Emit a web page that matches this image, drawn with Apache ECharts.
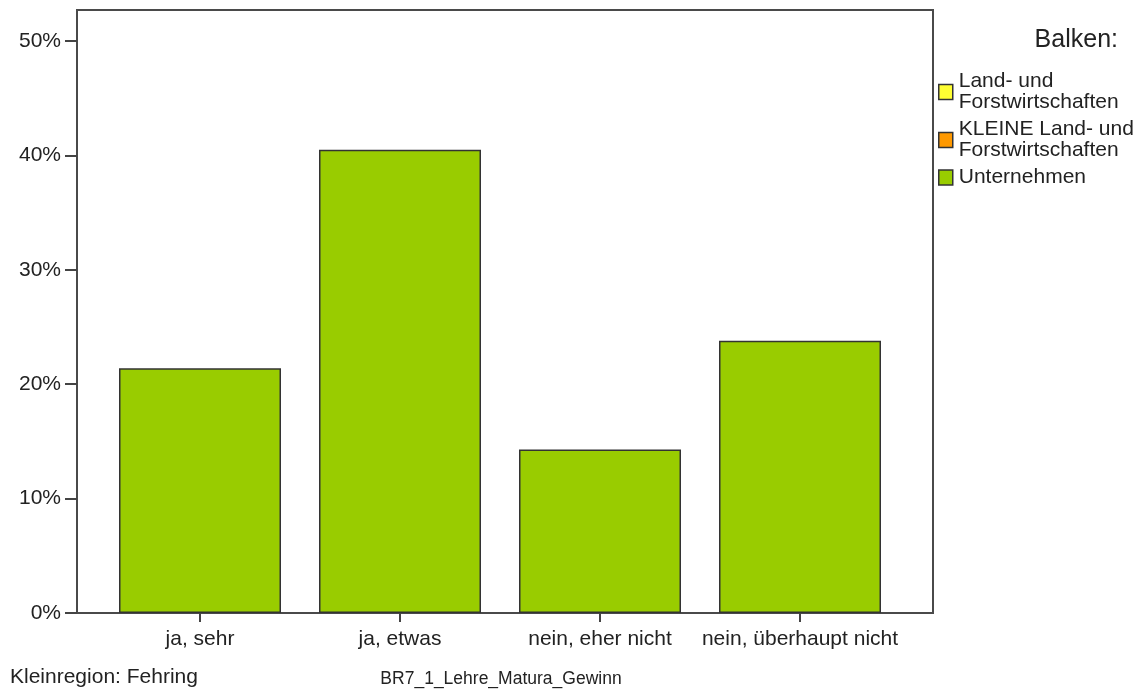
<!DOCTYPE html>
<html>
<head>
<meta charset="utf-8">
<script src="https://cdn.jsdelivr.net/npm/echarts@6/dist/echarts.min.js"></script>
<style>
html,body{margin:0;padding:0;background:#fff;}
#chart{width:1141px;height:693px;}
</style>
</head>
<body>
<div id="chart"></div>
<script>
const categories = ['ja, sehr', 'ja, etwas', 'nein, eher nicht', 'nein, überhaupt nicht'];
const seriesNames = ['Land- und\nForstwirtschaften', 'KLEINE Land- und\nForstwirtschaften', 'Unternehmen'];
const seriesColors = ['#ffff33', '#ff9900', '#99cc00'];
const landForst = [];
const kleineLandForst = [];
const unternehmen = [21.4, 40.5, 14.3, 23.8];
const yTicks = [0, 10, 20, 30, 40, 50];

const FONT = 'Liberation Sans, Arial, sans-serif';
const chart = echarts.init(document.getElementById('chart'), null, {renderer: 'canvas'});
const dataSets = [landForst, kleineLandForst, unternehmen];

chart.setOption({
  animation: false,
  backgroundColor: '#ffffff',
  textStyle: {fontFamily: FONT},
  title: [
    {text: 'Balken:', right: 18, top: 23, textStyle: {fontFamily: FONT, fontSize: 25, fontWeight: 'normal', color: '#222'}},
    {text: 'Kleinregion: Fehring', left: 5, top: 662, textStyle: {fontFamily: FONT, fontSize: 21, fontWeight: 'normal', color: '#222'}},
    {text: 'BR7_1_Lehre_Matura_Gewinn', left: 496, textAlign: 'center', top: 665, textStyle: {fontFamily: FONT, fontSize: 17.5, fontWeight: 'normal', color: '#222'}}
  ],
  legend: {
    orient: 'vertical',
    left: 933,
    top: 66,
    itemWidth: 14,
    itemHeight: 15,
    itemGap: 6,
    icon: 'rect',
    selectedMode: false,
    textStyle: {fontFamily: FONT, fontSize: 21, color: '#222', lineHeight: 21, padding: [0, 0, 0, 1]},
    data: seriesNames.map((n, i) => ({name: n, itemStyle: {color: seriesColors[i], borderColor: '#333', borderWidth: 1.5}}))
  },
  grid: [
    {left: 77, right: 208, top: 10, bottom: 80, show: true, borderColor: '#4a4a4a', borderWidth: 2, backgroundColor: 'transparent'},
    {left: 100, width: 800, top: 41, bottom: 80}
  ],
  xAxis: [
    {gridIndex: 0, type: 'value', show: false},
    {
      gridIndex: 1, type: 'category', data: categories,
      axisLine: {show: false},
      axisTick: {show: true, alignWithLabel: true, length: 9, lineStyle: {color: '#444', width: 2}},
      axisLabel: {fontFamily: FONT, fontSize: 21, color: '#222', margin: 16, interval: 0}
    }
  ],
  yAxis: [
    {gridIndex: 0, type: 'value', show: false},
    {
      gridIndex: 1, type: 'value', min: yTicks[0], max: yTicks[yTicks.length - 1], interval: 10,
      position: 'left', offset: 23,
      axisLine: {show: false},
      axisTick: {show: true, length: 12, lineStyle: {color: '#444', width: 2}},
      splitLine: {show: false},
      axisLabel: {fontFamily: FONT, fontSize: 21, color: '#222', margin: 16, formatter: '{value}%'}
    }
  ],
  series: seriesNames.map((n, i) => ({
    name: n,
    type: 'bar',
    xAxisIndex: 1,
    yAxisIndex: 1,
    stack: 'all',
    barWidth: 162,
    data: dataSets[i],
    itemStyle: {color: seriesColors[i], borderColor: '#333', borderWidth: 1.5}
  }))
});
</script>
</body>
</html>
